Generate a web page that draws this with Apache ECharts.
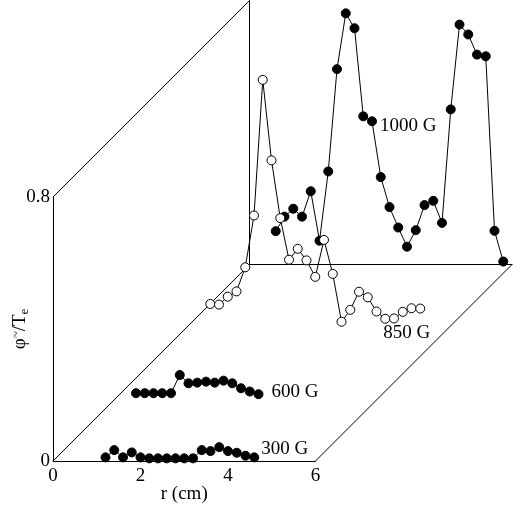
<!DOCTYPE html>
<html>
<head>
<meta charset="utf-8">
<script src="https://cdn.jsdelivr.net/npm/echarts@6/dist/echarts.min.js"></script>
<style>
  html, body { margin: 0; padding: 0; background: #fff; }
  #chart { width: 521px; height: 512px; }
</style>
</head>
<body>
<div id="chart"></div>
<script>
// r positions (cm) and fluctuation amplitude for each field
const r300 = [1.2, 1.4, 1.6, 1.8, 2.0, 2.2, 2.4, 2.6, 2.8, 3.0, 3.2, 3.4, 3.6, 3.8, 4.0, 4.2, 4.4, 4.6];
const v300 = [0.011, 0.033, 0.011, 0.026, 0.011, 0.008, 0.008, 0.008, 0.008, 0.008, 0.008, 0.033, 0.030, 0.042, 0.030, 0.025, 0.016, 0.011];

const r600 = [0.4, 0.6, 0.8, 1.0, 1.2, 1.4, 1.6, 1.8, 2.0, 2.2, 2.4, 2.6, 2.8, 3.0, 3.2];
const v600 = [0.007, 0.007, 0.007, 0.007, 0.007, 0.062, 0.037, 0.039, 0.042, 0.039, 0.045, 0.037, 0.022, 0.012, 0.004];

const r850 = [0.6, 0.8, 1.0, 1.2, 1.4, 1.6, 1.8, 2.0, 2.2, 2.4, 2.6, 2.8, 3.0, 3.2, 3.4, 3.6, 3.8, 4.0, 4.2, 4.4, 4.6, 4.8, 5.0, 5.2, 5.4];
const v850 = [0.079, 0.077, 0.101, 0.117, 0.190, 0.347, 0.758, 0.514, 0.339, 0.213, 0.246, 0.211, 0.161, 0.273, 0.170, 0.025, 0.061, 0.116, 0.099, 0.056, 0.034, 0.035, 0.055, 0.066, 0.065];

const r1000 = [0.6, 0.8, 1.0, 1.2, 1.4, 1.6, 1.8, 2.0, 2.2, 2.4, 2.6, 2.8, 3.0, 3.2, 3.4, 3.6, 3.8, 4.0, 4.2, 4.4, 4.6, 4.8, 5.0, 5.2, 5.4, 5.6, 5.8];
const v1000 = [0.101, 0.145, 0.169, 0.145, 0.222, 0.072, 0.282, 0.592, 0.761, 0.716, 0.449, 0.434, 0.265, 0.174, 0.112, 0.054, 0.104, 0.180, 0.193, 0.126, 0.470, 0.727, 0.697, 0.636, 0.631, 0.102, 0.009];

const xTicks = [0, 2, 4, 6];
const yTicks = [0, 0.8];

// depth offsets (px) of the stacked planes, front to back
const depth = [0, 65.5, 131, 196.5];
const font = 'Liberation Serif';
const fs = 19;
const W = 262.5, H = 264, L0 = 53, T0 = 197;

const chart = echarts.init(document.getElementById('chart'));

function pts(rs, vs, lab) {
  return rs.map((r, i) => {
    const d = { value: [r, vs[i]] };
    if (lab && lab.index === i) {
      d.label = Object.assign({ show: true, color: '#000', fontFamily: font, fontSize: fs,
        formatter: lab.text }, lab.style);
    }
    return d;
  });
}

const grids = depth.map(d => ({ left: L0 + d, top: T0 - d, width: W, height: H,
  containLabel: false, outerBoundsMode: 'none' }));
const xAxes = depth.map((d, i) => ({
  gridIndex: i, type: 'value', min: xTicks[0], max: xTicks[xTicks.length - 1], interval: 2,
  axisLine: { show: i === 0 || i === 3, onZero: false, lineStyle: { color: '#000', width: 1 } },
  axisTick: { show: false }, splitLine: { show: false },
  axisLabel: { show: i === 0, color: '#000', fontFamily: font, fontSize: fs, margin: 6 },
  name: i === 0 ? 'r (cm)' : '', nameLocation: 'middle', nameGap: 24, nameMoveOverlap: false,
  nameTextStyle: { color: '#000', fontFamily: font, fontSize: fs }
}));
const yAxes = depth.map((d, i) => ({
  gridIndex: i, type: 'value', min: yTicks[0], max: yTicks[1], interval: 0.8,
  axisLine: { show: i === 0 || i === 3, lineStyle: { color: '#000', width: 1 } },
  axisTick: { show: false }, splitLine: { show: false },
  axisLabel: { show: i === 0, color: '#000', fontFamily: font, fontSize: fs, margin: 3,
    formatter: v => (v === 0 ? '0' : String(v)) },
  name: i === 0 ? '{b|φ}{s|~}{b|/T}{e|e}' : '', nameLocation: 'middle', nameGap: 22, nameRotate: 90,
  nameMoveOverlap: false,
  nameTextStyle: {
    color: '#000', fontFamily: font, fontSize: fs,
    rich: {
      b: { fontFamily: font, fontSize: 19, color: '#000' },
      s: { fontFamily: font, fontSize: 13, color: '#000', verticalAlign: 'top', lineHeight: 21 },
      e: { fontFamily: font, fontSize: 13, color: '#000', verticalAlign: 'bottom', lineHeight: 21 }
    }
  }
}));

function line(idx, data, open) {
  return {
    type: 'line', xAxisIndex: idx, yAxisIndex: idx, data: data,
    symbol: 'circle', symbolSize: 9, showAllSymbol: true,
    lineStyle: { color: '#000', width: 1 },
    itemStyle: { color: open ? '#fff' : '#000', borderColor: '#000', borderWidth: 1 },
    emphasis: { disabled: true }, animation: false, z: 2 + (3 - idx)
  };
}

const option = {
  animation: false,
  grid: grids,
  xAxis: xAxes,
  yAxis: yAxes,
  series: [
    line(3, pts(r1000, v1000, { index: 11, text: '1000 G', style: { position: 'right', distance: 3, offset: [0, 5] } }), false),
    line(2, pts(r850, v850, { index: 22, text: '850 G', style: { position: 'bottom', distance: 5, offset: [4, 2] } }), true),
    line(1, pts(r600, v600, { index: 14, text: '600 G', style: { position: 'right', distance: 8, offset: [0, -2] } }), false),
    line(0, pts(r300, v300, { index: 17, text: '300 G', style: { position: 'right', distance: 2, offset: [0, -8] } }), false)
  ]
};
chart.setOption(option);

// depth edges joining the front plane to the back plane
const a = chart.convertToPixel({ gridIndex: 0 }, [0, 0]);
const b = chart.convertToPixel({ gridIndex: 3 }, [0, 0]);
const c = chart.convertToPixel({ gridIndex: 0 }, [6, 0]);
const e = chart.convertToPixel({ gridIndex: 3 }, [6, 0]);
const f = chart.convertToPixel({ gridIndex: 0 }, [0, 0.8]);
const g = chart.convertToPixel({ gridIndex: 3 }, [0, 0.8]);
const edge = (p, q) => ({ type: 'line', shape: { x1: p[0], y1: p[1], x2: q[0], y2: q[1] },
  style: { stroke: '#000', lineWidth: 1 }, silent: true, z: 0 });
chart.setOption({ graphic: [edge(a, b), edge(c, e), edge(f, g)] });
</script>
</body>
</html>
